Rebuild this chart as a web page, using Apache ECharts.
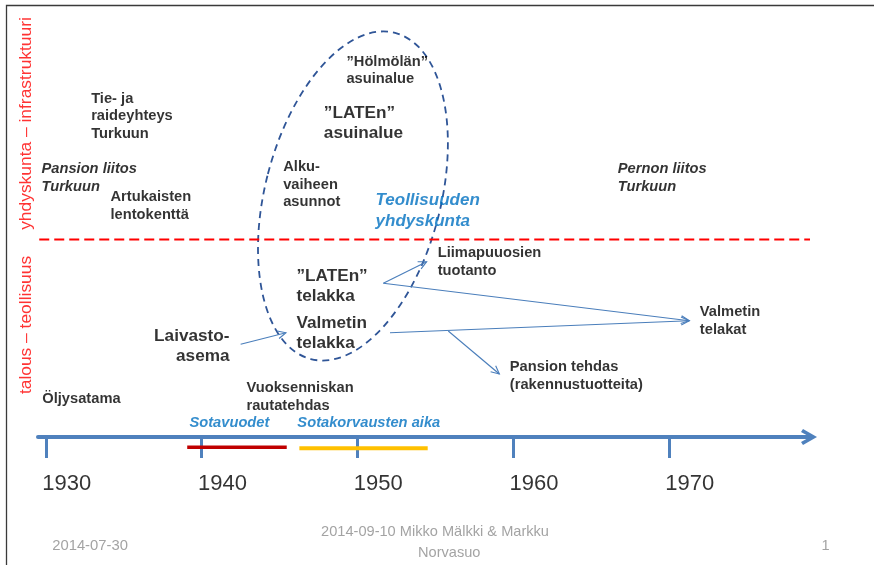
<!DOCTYPE html>
<html>
<head>
<meta charset="utf-8">
<title>Teollisuuden yhdyskunta</title>
<script src="https://cdn.jsdelivr.net/npm/echarts@6/dist/echarts.min.js"></script>
<style>
  html, body { margin: 0; padding: 0; background: #fff; }
  #main { width: 874px; height: 565px; }
</style>
</head>
<body>
<div id="main"></div>
<script>
  var FONT = '"Liberation Sans", Arial, Helvetica, sans-serif'

  // aikajanan vuodet
  var yearTicks = [1930, 1940, 1950, 1960, 1970]

  // pystysuunta = "taso" aikajanan yläpuolella
  var divider = [[1929.58, 197.5], [1979.49, 197.5]]
  var warYears = [[1939.08, -10.3], [1945.47, -10.3]]
  var reparationYears = [[1946.28, -11.3], [1954.52, -11.3]]

  // [vuosi, taso, teksti]
  var smallBold = [
    [1932.88, 320.8, 'Tie- ja\nraideyhteys\nTurkuun'],
    [1934.12, 230.8, 'Artukaisten\nlentokenttä'],
    [1945.21, 252.5, 'Alku-\nvaiheen\nasunnot'],
    [1949.27, 366.5, '”Hölmölän”\nasuinalue'],
    [1955.13, 175, 'Liimapuuosien\ntuotanto'],
    [1971.96, 115.8, 'Valmetin\ntelakat'],
    [1959.76, 60.8, 'Pansion tehdas\n(rakennustuotteita)'],
    [1929.74, 38, 'Öljysatama'],
    [1942.85, 40.3, 'Vuoksenniskan\nrautatehdas']
  ]
  var largeBold = [
    [1947.82, 313.7, '”LATEn”\nasuinalue'],
    [1946.06, 151, '”LATEn”\ntelakka'],
    [1946.06, 103.7, 'Valmetin\ntelakka']
  ]
  var rightBold = [[1941.83, 91, 'Laivasto-\nasema']]
  var italicBlack = [
    [1929.69, 259, 'Pansion liitos\nTurkuun'],
    [1966.69, 259.2, 'Pernon liitos\nTurkuun']
  ]
  var italicBlueLarge = [[1951.14, 226.5, 'Teollisuuden\nyhdyskunta']]
  var italicBlue = [
    [1939.19, 14.3, 'Sotavuodet'],
    [1946.12, 14.3, 'Sotakorvausten aika']
  ]
  var sideTitles = [
    [1928.76, 313.5, 'yhdyskunta – infrastruktuuri'],
    [1928.76, 112, 'talous – teollisuus']
  ]
  var footerLeft = [[1930.38, -109, '2014-07-30']]
  var footerCenter = [
    [1954.99, -95.3, '2014-09-10 Mikko Mälkki & Markku'],
    [1955.9, -116.3, 'Norvasuo'],
    [1980.06, -108.7, '1']
  ]

  // nuolet: [vuosi0, taso0, vuosi1, taso1]
  var links = [
    [1942.51, 92.7, 1945.42, 104.3],
    [1951.67, 153.7, 1954.45, 175.3],
    [1951.67, 153.7, 1971.31, 116.3],
    [1952.10, 104.3, 1971.31, 116.3],
    [1955.84, 106, 1959.12, 63]
  ]
  // ellipsi: [keskivuosi, keskitaso, puolileveys vuosina, puolikorkeus, kallistus astetta]
  var cluster = [[1949.72, 241, 5.64, 168.4, 14.5]]

  // vuosiluvut aikajanan alle (alkavat hieman tikin vasemmalta puolelta)
  var yearLabels = yearTicks.map(function (y) { return [y - 0.26, -46.5, String(y)] })

  function textSeries (data, label) {
    return {
      type: 'scatter',
      data: data,
      symbolSize: 1,
      itemStyle: { color: 'rgba(0,0,0,0)' },
      clip: false,
      silent: true,
      encode: { x: 0, y: 1 },
      label: Object.assign({
        show: true,
        position: 'right',
        distance: 0,
        color: '#000',
        fontFamily: FONT,
        fontWeight: 'bold',
        fontSize: 14.7,
        lineHeight: 17.6,
        formatter: function (p) { return p.data[2] }
      }, label)
    }
  }

  function segment (data, color, width, type) {
    return {
      type: 'line',
      data: data,
      symbol: 'none',
      clip: false,
      silent: true,
      lineStyle: { color: color, width: width, type: type || 'solid', cap: 'butt' }
    }
  }

  var myChart = echarts.init(document.getElementById('main'))
  var option = {
    backgroundColor: '#fff',
    animation: false,
    grid: { left: 38, right: 65, top: 0, bottom: 0 },
    graphic: [{
      type: 'polyline',
      silent: true,
      shape: { points: [[6.5, 570], [6.5, 5.5], [880, 5.5]] },
      style: { stroke: '#3a3a3a', lineWidth: 1.3, fill: 'none' }
    }],
    xAxis: {
      type: 'value',
      min: 1929.5,
      max: 1979,
      splitLine: { show: false },
      axisLabel: { show: false },
      axisLine: {
        onZero: true,
        symbol: ['none', 'path://M8,0 L16,14 L13,16 L8,7 L3,16 L0,14 Z'],
        symbolSize: [16, 16],
        lineStyle: { color: '#4f81bd', width: 4 }
      },
      axisTick: {
        customValues: yearTicks,
        length: 21,
        lineStyle: { color: '#4f81bd', width: 3 }
      }
    },
    yAxis: { type: 'value', min: -128, max: 437, show: false },
    series: [
      segment(divider, '#ff0000', 2, [10, 5]),
      segment(warYears, '#c00000', 3.6),
      segment(reparationYears, '#ffc000', 4),
      {
        type: 'custom',
        data: cluster,
        silent: true,
        encode: { x: 0, y: 1 },
        renderItem: function (params, api) {
          var c = api.coord([api.value(0), api.value(1)])
          var rx = api.size([api.value(2), 0])[0]
          var ry = api.size([0, api.value(3)])[1]
          return {
            type: 'ellipse',
            x: c[0],
            y: c[1],
            rotation: -api.value(4) * Math.PI / 180,
            shape: { cx: 0, cy: 0, rx: rx, ry: ry },
            style: { fill: 'none', stroke: '#2f5597', lineWidth: 1.8, lineDash: [7, 5] }
          }
        }
      },
      {
        type: 'custom',
        data: links,
        silent: true,
        clip: false,
        encode: { x: [0, 2], y: [1, 3] },
        renderItem: function (params, api) {
          var a = api.coord([api.value(0), api.value(1)])
          var b = api.coord([api.value(2), api.value(3)])
          var ang = Math.atan2(b[1] - a[1], b[0] - a[0])
          var len = 9, spread = 0.45
          var h1 = [b[0] - len * Math.cos(ang - spread), b[1] - len * Math.sin(ang - spread)]
          var h2 = [b[0] - len * Math.cos(ang + spread), b[1] - len * Math.sin(ang + spread)]
          var st = { stroke: '#4a7ebb', lineWidth: 1.1, fill: 'none' }
          return {
            type: 'group',
            children: [
              { type: 'line', shape: { x1: a[0], y1: a[1], x2: b[0], y2: b[1] }, style: st },
              { type: 'polyline', shape: { points: [h1, b, h2] }, style: st }
            ]
          }
        }
      },
      textSeries(yearLabels, { fontWeight: 'normal', fontSize: 22, lineHeight: 24 }),
      textSeries(smallBold, {}),
      textSeries(largeBold, { fontSize: 17.2, lineHeight: 20 }),
      textSeries(rightBold, { position: 'left', fontSize: 17.2, lineHeight: 20 }),
      textSeries(italicBlack, { fontStyle: 'italic', lineHeight: 17.6 }),
      textSeries(italicBlueLarge, { fontStyle: 'italic', fontSize: 17, lineHeight: 21, color: '#0070c0' }),
      textSeries(italicBlue, { fontStyle: 'italic', color: '#0070c0' }),
      textSeries(sideTitles, { position: 'inside', rotate: 90, fontWeight: 'normal', fontSize: 17.4, color: '#ff0000' }),
      textSeries(footerLeft, { fontWeight: 'normal', fontSize: 14.8, color: '#8c8c8c' }),
      textSeries(footerCenter, { position: 'inside', fontWeight: 'normal', fontSize: 14.6, color: '#8c8c8c' })
    ]
  }
  myChart.setOption(option)
</script>
</body>
</html>
